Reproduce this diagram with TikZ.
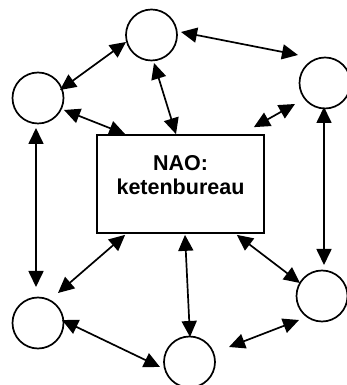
\documentclass[tikz,border=0pt]{standalone}
\usepackage{fontspec}
\setmainfont{Liberation Sans}
\usetikzlibrary{arrows.meta,calc}
\begin{document}
\begin{tikzpicture}[x=1pt,y=1pt,
  circ/.style={draw,circle,line width=1.7pt,minimum size=51pt,inner sep=0pt},
  box/.style={draw,rectangle,line width=1.7pt,minimum width=167pt,minimum height=98pt,inner sep=0pt},
  lbl/.style={align=center,inner sep=0pt,font=\bfseries\fontsize{21.5}{23.4}\selectfont},
  link/.style={line width=1.7pt,{Triangle[length=16pt,width=15pt]}-{Triangle[length=16pt,width=15pt]}}]
\useasboundingbox (0,0) rectangle (347,385);
\node[circ] (T) at (151.5,350) {};
\node[circ] (L) at (38,287) {};
\node[circ] (R) at (325,302) {};
\node[circ] (BL) at (38,62) {};
\node[circ] (B) at (189.5,23) {};
\node[circ] (BR) at (322,89) {};
\node[box] (N) at (180.5,201) {};
\node[lbl] (NT) at ($(N)+(0,9)$) {NAO:\\ketenbureau};
\draw[link] ($(T)+(29.5,3)$) -- ($(R)+(-27,28)$);
\draw[link] ($(T)+(-25.5,-7)$) -- ($(L)+(22,8)$);
\draw[link] ($(T)+(2.5,-28)$) -- ($(N.north)+(-4.5,0)$);
\draw[link] ($(L)+(26,-12)$) -- ($(N.north west)+(29,0)$);
\draw[link] ($(R)+(-30,-21)$) -- ($(N.north east)+(-11,7)$);
\draw[link] ($(L)+(-2,-30)$) -- ($(BL)+(-2,36)$);
\draw[link] ($(R)+(-1,-24)$) -- ($(BR)+(2,31)$);
\draw[link] ($(N.south west)+(29,-1)$) -- ($(BL)+(20,30)$);
\draw[link] ($(N.south)+(4.5,-1)$) -- ($(B)+(0.5,25)$);
\draw[link] ($(N.south east)+(-28,-1)$) -- ($(BR)+(-22,13)$);
\draw[link] ($(BL)+(24,3)$) -- ($(B)+(-29.5,-5)$);
\draw[link] ($(B)+(39.5,15)$) -- ($(BR)+(-23,-24)$);
\end{tikzpicture}
\end{document}
